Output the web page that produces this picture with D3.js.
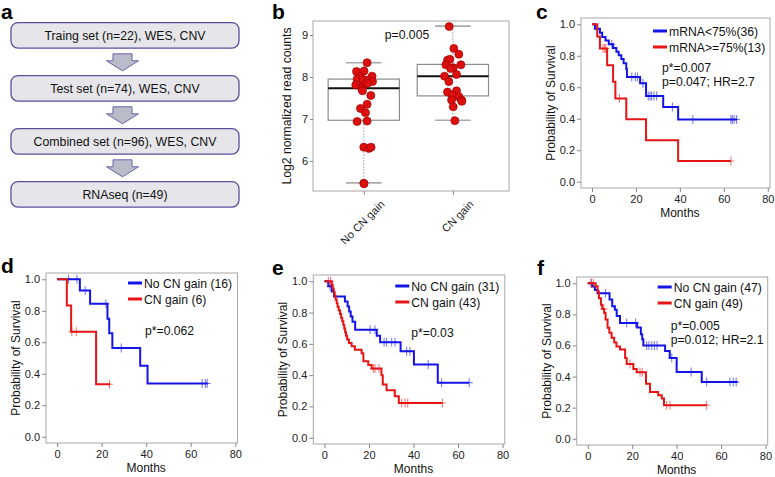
<!DOCTYPE html>
<html>
<head>
<meta charset="utf-8">
<script src="https://cdn.jsdelivr.net/npm/d3@7"></script>
<style>
body { margin: 0; background: #fff; }
text { font-family: "Liberation Sans", Arial, sans-serif; }
</style>
</head>
<body>
<script>
// ---- panel a: study flow ----
var flowSteps = ["Traing set (n=22), WES, CNV", "Test set (n=74), WES, CNV",
                 "Combined set (n=96), WES, CNV", "RNAseq (n=49)"];

// ---- panel b: expression by CN status ----
var bGroups = ["No CN gain", "CN gain"];
var bLowWhisker = [5.48, 6.97];
var bQ1 = [6.97, 7.55];
var bMedian = [7.73, 8.02];
var bQ3 = [7.95, 8.30];
var bHighWhisker = [8.34, 9.21];
var bYTicks = [6, 7, 8, 9];
var bPValue = "p=0.005";
// jittered x (group index) and value for each sample
var bNoGainX = [1.037, 0.918, 1.003, 0.955, 1.093, 0.925, 0.992, 1.048, 1.098, 0.910, 0.992, 1.042, 0.978,
                0.985, 1.079, 1.037, 0.963, 1.019, 0.925, 1.037, 1.000, 1.056, 1.082, 1.000, 1.003];
var bNoGainY = [8.34, 8.13, 8.14, 8.01, 8.02, 7.95, 7.94, 7.93, 7.89, 7.81, 7.79, 7.85, 7.72,
                7.67, 7.56, 7.35, 7.25, 7.15, 6.94, 6.95, 6.33, 6.30, 6.33, 5.47, 5.46];
var bGainX = [1.959, 2.011, 2.067, 1.940, 1.966, 1.921, 2.090, 2.004, 1.975, 1.906, 2.041,
              1.955, 1.940, 2.041, 1.993, 2.067, 2.097, 2.100, 1.985, 2.004, 2.022];
var bGainY = [9.20, 8.68, 8.54, 8.40, 8.42, 8.29, 8.29, 8.22, 8.20, 8.02, 8.06,
              7.89, 7.64, 7.67, 7.57, 7.53, 7.45, 7.42, 7.45, 7.29, 6.96];

// ---- survival panels (months, survival after each drop, censor times, last follow-up) ----
var kmXTicks = [0, 20, 40, 60, 80];
var kmYTicks = [0, 0.2, 0.4, 0.6, 0.8, 1.0];

var cLabels = ["mRNA<75%(36)", "mRNA>=75%(13)"];
var cStats = ["p*=0.007", "p=0.047; HR=2.7"];
var cBlueT = [1.35, 3.6, 4.65, 6.15, 7.65, 9.6, 11.1, 12.15, 13.35, 14.4, 15.6, 15.9, 21.9, 24.6, 32.4, 39.2];
var cBlueS = [0.972, 0.946, 0.92, 0.897, 0.874, 0.85, 0.826, 0.803, 0.78, 0.752, 0.716, 0.665, 0.625, 0.545, 0.474, 0.395];
var cBlueCens = [2.4, 9.0, 18.1, 19.7, 20.7, 23.2, 25.6, 26.4, 27.1, 28.2, 29.4, 36.6, 45.9, 63.2, 63.9, 64.7, 65.8];
var cBlueEnd = 66;
var cRedT = [2.4, 3.6, 6.9, 9.6, 10.65, 15.6, 24.6, 39.2];
var cRedS = [0.923, 0.846, 0.740, 0.635, 0.529, 0.397, 0.264, 0.132];
var cRedCens = [5.0, 5.8, 6.3, 12.5, 63.2];
var cRedEnd = 63.2;

var dLabels = ["No CN gain (16)", "CN gain (6)"];
var dStats = ["p*=0.062"];
var dBlueT = [10.2, 14.8, 22.6, 23.4, 24.8, 37.3, 40.6];
var dBlueS = [0.929, 0.844, 0.750, 0.657, 0.563, 0.450, 0.338];
var dBlueCens = [5.1, 8.9, 12.6, 21.9, 28.8, 65.1, 66.6, 67.4];
var dBlueEnd = 67.6;
var dRedT = [4.35, 6.3, 17.5];
var dRedS = [0.833, 0.667, 0.333];
var dRedCens = [6.6, 8.6, 23.5];
var dRedEnd = 23.8;

var eLabels = ["No CN gain (31)", "CN gain (43)"];
var eStats = ["p*=0.03"];
var eBlueT = [1.75, 3.3, 4.3, 9.2, 10.4, 11.1, 11.8, 12.6, 13.8, 23.5, 25.0, 34.2, 40.2, 50.9];
var eBlueS = [0.968, 0.935, 0.903, 0.871, 0.839, 0.806, 0.774, 0.742, 0.690, 0.652, 0.610, 0.553, 0.468, 0.352];
var eBlueCens = [2.5, 20.5, 22.7, 26.8, 27.9, 30.2, 31.7, 36.9, 38.4, 46.6, 52.6, 65.0];
var eBlueEnd = 65.0;
var eRedT = [3.3, 3.7, 4.2, 4.6, 5.0, 5.5, 5.9, 6.4, 7.0, 7.5, 8.0, 8.5, 8.9, 9.3, 9.7, 10.2, 11.0, 12.2, 13.7,
             16.7, 17.5, 19.7, 21.2, 25.6, 26.2, 27.9, 31.6, 33.4];
var eRedS = [0.977, 0.953, 0.930, 0.907, 0.884, 0.860, 0.837, 0.814, 0.791, 0.767, 0.744, 0.721, 0.698, 0.674,
             0.651, 0.628, 0.605, 0.584, 0.563, 0.540, 0.489, 0.465, 0.442, 0.400, 0.341, 0.303, 0.265, 0.222];
var eRedCens = [1.75, 2.8, 22.0, 22.7, 24.5, 34.7, 36.2, 37.4, 53.0];
var eRedEnd = 53.0;

var fLabels = ["No CN gain (47)", "CN gain (49)"];
var fStats = ["p*=0.005", "p=0.012; HR=2.1"];
var fBlueT = [2.0, 3.2, 4.4, 9.8, 11.0, 12.2, 13.0, 14.5, 22.2, 23.9, 24.5, 25.0, 34.8, 36.9, 40.0, 51.3];
var fBlueS = [0.979, 0.957, 0.936, 0.895, 0.852, 0.830, 0.790, 0.745, 0.715, 0.672, 0.640, 0.600, 0.565, 0.520, 0.430, 0.365];
var fBlueCens = [1.5, 8.0, 17.5, 21.5, 26.5, 27.5, 28.8, 30.0, 31.2, 37.8, 46.5, 53.5, 64.0, 65.5, 66.8];
var fBlueEnd = 67.5;
var fRedT = [3.5, 4.4, 5.0, 5.9, 6.5, 7.4, 8.0, 8.9, 9.7, 10.7, 11.9, 12.9, 14.5, 16.8, 17.5,
             20.5, 22.0, 26.2, 28.0, 31.7, 33.3, 34.3];
var fRedS = [0.980, 0.947, 0.904, 0.862, 0.834, 0.809, 0.767, 0.714, 0.682, 0.650, 0.619, 0.593, 0.574, 0.520, 0.480,
             0.449, 0.428, 0.354, 0.301, 0.280, 0.259, 0.216];
var fRedCens = [1.5, 2.5, 7.2, 19.0, 23.5, 24.5, 35.5, 37.0, 53.5];
var fRedEnd = 53.5;

var BLUE = "#1414e6", RED = "#e61414";

var svg = d3.select("body").append("svg")
    .attr("width", 775)
    .attr("height", 477);

function panelLetter(s, x, y) {
    svg.append("text").attr("x", x).attr("y", y)
        .attr("font-size", 21).attr("font-weight", "bold").text(s);
}

// ---------- a ----------
panelLetter("a", 1, 19);
var flowY = d3.scalePoint().domain(flowSteps).range([35.3, 194.3]);
var boxH = 25.5;
svg.selectAll("rect.flow")
    .data(flowSteps).enter()
    .append("rect")
    .attr("class", "flow")
    .attr("x", 11).attr("width", 228)
    .attr("y", function (d) { return flowY(d) - boxH / 2; })
    .attr("height", boxH)
    .attr("rx", 7)
    .attr("fill", "#e6e6ea")
    .attr("stroke", "#5c4e9c")
    .attr("stroke-width", 1.3);
svg.selectAll("text.flow")
    .data(flowSteps).enter()
    .append("text")
    .attr("class", "flow")
    .attr("x", 125)
    .attr("y", function (d) { return flowY(d) + 4.5; })
    .attr("text-anchor", "middle")
    .attr("font-size", 12.3)
    .attr("fill", "#111")
    .text(function (d) { return d; });
// arrows between consecutive steps
svg.selectAll("path.arrow")
    .data(flowSteps.slice(1)).enter()
    .append("path")
    .attr("d", function (d, i) {
        var m = (flowY(flowSteps[i]) + flowY(d)) / 2, cx = 122.5;
        return "M" + (cx - 9.5) + "," + (m - 8) + "H" + (cx + 9.5) + "V" + (m - 1) +
            "H" + (cx + 16) + "L" + cx + "," + (m + 9) + "L" + (cx - 16) + "," + (m - 1) +
            "H" + (cx - 9.5) + "Z";
    })
    .attr("fill", "#b9bdca")
    .attr("stroke", "#6c62a8")
    .attr("stroke-width", 1);

// ---------- b ----------
panelLetter("b", 272, 19);
var bLeft = 313, bTop = 21, bW = 196, bH = 170;
var bx = d3.scaleLinear().domain([0.43, 2.63]).range([bLeft, bLeft + bW]);
var by = d3.scaleLinear().domain([5.286, 9.333]).range([bTop + bH, bTop]);
svg.append("rect").attr("x", bLeft).attr("y", bTop).attr("width", bW).attr("height", bH)
    .attr("fill", "none").attr("stroke", "#a8a8a8");

var bIdx = [0, 1];
// whiskers
svg.selectAll("line.wlo").data(bIdx).enter().append("line")
    .attr("x1", function (i) { return bx(i + 1); }).attr("x2", function (i) { return bx(i + 1); })
    .attr("y1", function (i) { return by(bLowWhisker[i]); }).attr("y2", function (i) { return by(bQ1[i]); })
    .attr("stroke", "#999").attr("stroke-dasharray", "1.5,1.5");
svg.selectAll("line.whi").data(bIdx).enter().append("line")
    .attr("x1", function (i) { return bx(i + 1); }).attr("x2", function (i) { return bx(i + 1); })
    .attr("y1", function (i) { return by(bHighWhisker[i]); }).attr("y2", function (i) { return by(bQ3[i]); })
    .attr("stroke", "#999").attr("stroke-dasharray", "1.5,1.5");
[bLowWhisker, bHighWhisker].forEach(function (arr) {
    svg.selectAll(null).data(bIdx).enter().append("line")
        .attr("x1", function (i) { return bx(i + 0.8); }).attr("x2", function (i) { return bx(i + 1.2); })
        .attr("y1", function (i) { return by(arr[i]); }).attr("y2", function (i) { return by(arr[i]); })
        .attr("stroke", "#aaa").attr("stroke-width", 1.6);
});
svg.selectAll("rect.bbox").data(bIdx).enter().append("rect")
    .attr("x", function (i) { return bx(i + 0.6); })
    .attr("width", function (i) { return bx(i + 1.4) - bx(i + 0.6); })
    .attr("y", function (i) { return by(bQ3[i]); })
    .attr("height", function (i) { return by(bQ1[i]) - by(bQ3[i]); })
    .attr("fill", "none").attr("stroke", "#8c8c8c").attr("stroke-width", 1.2);
svg.selectAll("line.med").data(bIdx).enter().append("line")
    .attr("x1", function (i) { return bx(i + 0.6); }).attr("x2", function (i) { return bx(i + 1.4); })
    .attr("y1", function (i) { return by(bMedian[i]); }).attr("y2", function (i) { return by(bMedian[i]); })
    .attr("stroke", "#111").attr("stroke-width", 2);

var bPoints = d3.zip(bNoGainX, bNoGainY).concat(d3.zip(bGainX, bGainY));
svg.selectAll("circle.pt").data(bPoints).enter().append("circle")
    .attr("cx", function (d) { return bx(d[0]); })
    .attr("cy", function (d) { return by(d[1]); })
    .attr("r", 4)
    .attr("fill", "#dd1010")
    .attr("stroke", "#a00000")
    .attr("stroke-width", 0.7);

var bYAxis = svg.append("g").attr("transform", "translate(" + bLeft + ",0)")
    .call(d3.axisLeft(by).tickValues(bYTicks).tickSize(3).tickPadding(2).tickFormat(d3.format("d")));
bYAxis.select(".domain").remove();
bYAxis.selectAll("line").attr("stroke", "#888");
bYAxis.selectAll("text").attr("font-size", 11).attr("fill", "#222")
    .attr("font-family", "Liberation Sans, Arial, sans-serif");
var bXAxis = svg.append("g").attr("transform", "translate(0," + (bTop + bH) + ")")
    .call(d3.axisBottom(bx).tickValues([1, 2]).tickSize(4)
        .tickFormat(function (d) { return bGroups[d - 1]; }));
bXAxis.select(".domain").remove();
bXAxis.selectAll("line").attr("stroke", "#888");
bXAxis.selectAll("text")
    .attr("font-size", 11).attr("fill", "#222")
    .attr("font-family", "Liberation Sans, Arial, sans-serif")
    .attr("text-anchor", "end")
    .attr("dy", 0)
    .attr("transform", "translate(21,14) rotate(-45)")
    .attr("y", 0);
svg.append("text")
    .attr("transform", "translate(291," + (bTop + bH / 2) + ") rotate(-90)")
    .attr("text-anchor", "middle").attr("font-size", 12.2).attr("fill", "#111")
    .text("Log2 normalized read counts");
svg.append("text").attr("x", 407).attr("y", 39).attr("text-anchor", "middle")
    .attr("font-size", 12.2).attr("fill", "#111").text(bPValue);

// ---------- survival panels ----------
function survAt(T, S, t) {
    var i = d3.bisectRight(T, t);
    return i === 0 ? 1 : S[i - 1];
}

function drawKM(p) {
    panelLetter(p.letter, p.lx, p.ly);
    var g = svg.append("g").attr("transform", "translate(" + p.left + "," + p.top + ")");
    var x = d3.scaleLinear().domain([-5, 81]).range([0, p.w]);
    var y = d3.scaleLinear().domain([-0.04, 1.04]).range([p.h, 0]);
    g.append("rect").attr("width", p.w).attr("height", p.h)
        .attr("fill", "none").attr("stroke", "#a8a8a8");

    var xa = g.append("g").attr("transform", "translate(0," + p.h + ")")
        .call(d3.axisBottom(x).tickValues(kmXTicks).tickSize(4).tickPadding(3));
    var ya = g.append("g")
        .call(d3.axisLeft(y).tickValues(kmYTicks).tickSize(4).tickPadding(2).tickFormat(d3.format(".1f")));
    [xa, ya].forEach(function (a) {
        a.select(".domain").remove();
        a.selectAll("line").attr("stroke", "#888");
        a.selectAll("text").attr("font-size", 11).attr("fill", "#222")
            .attr("font-family", "Liberation Sans, Arial, sans-serif");
    });
    g.append("text").attr("x", x(40)).attr("y", p.h + 28.5).attr("text-anchor", "middle")
        .attr("font-size", 12).attr("fill", "#111").text("Months");
    g.append("text").attr("transform", "translate(-26," + (p.h / 2) + ") rotate(-90)")
        .attr("text-anchor", "middle").attr("font-size", 12).attr("fill", "#111")
        .text("Probability of Survival");

    var line = d3.line().curve(d3.curveStepAfter)
        .x(function (d) { return x(d[0]); })
        .y(function (d) { return y(d[1]); });

    p.series.forEach(function (s) {
        var pts = [[0, 1]].concat(d3.zip(s.t, s.s)).concat([[s.end, s.s[s.s.length - 1]]]);
        g.append("path").datum(pts).attr("d", line)
            .attr("fill", "none").attr("stroke", s.color).attr("stroke-width", 2);
        g.selectAll(null).data(s.cens).enter().append("path")
            .attr("d", function (c) {
                var cx = x(c), cy = y(survAt(s.t, s.s, c));
                return "M" + (cx - 3.5) + "," + cy + "h7M" + cx + "," + (cy - 4.5) + "v9";
            })
            .attr("stroke", s.color).attr("stroke-opacity", 0.55).attr("stroke-width", 1.1);
    });

    // legend
    p.series.forEach(function (s, i) {
        var ly = p.legY + i * 16;
        g.append("line").attr("x1", p.legX).attr("x2", p.legX + 14)
            .attr("y1", ly).attr("y2", ly)
            .attr("stroke", s.color).attr("stroke-width", 3);
        g.append("text").attr("x", p.legX + 16).attr("y", ly + 4.5)
            .attr("font-size", 12.2).attr("fill", "#111").text(s.label);
    });
    p.stats.forEach(function (t, i) {
        g.append("text").attr("x", p.statX).attr("y", p.statY + i * 13.7)
            .attr("font-size", 12.2).attr("fill", "#111").text(t);
    });
}

drawKM({
    letter: "c", lx: 536, ly: 19, left: 581, top: 18, w: 189, h: 170,
    legX: 72, legY: 13, statX: 81, statY: 54, stats: cStats,
    series: [
        { t: cBlueT, s: cBlueS, cens: cBlueCens, end: cBlueEnd, color: BLUE, label: cLabels[0] },
        { t: cRedT, s: cRedS, cens: cRedCens, end: cRedEnd, color: RED, label: cLabels[1] }
    ]
});
drawKM({
    letter: "d", lx: 1, ly: 273, left: 46, top: 273, w: 191.5, h: 170,
    legX: 82, legY: 10, statX: 99, statY: 62, stats: dStats,
    series: [
        { t: dBlueT, s: dBlueS, cens: dBlueCens, end: dBlueEnd, color: BLUE, label: dLabels[0] },
        { t: dRedT, s: dRedS, cens: dRedCens, end: dRedEnd, color: RED, label: dLabels[1] }
    ]
});
drawKM({
    letter: "e", lx: 272, ly: 275, left: 313.3, top: 275, w: 191.5, h: 169,
    legX: 82, legY: 11, statX: 98, statY: 62, stats: eStats,
    series: [
        { t: eBlueT, s: eBlueS, cens: eBlueCens, end: eBlueEnd, color: BLUE, label: eLabels[0] },
        { t: eRedT, s: eRedS, cens: eRedCens, end: eRedEnd, color: RED, label: eLabels[1] }
    ]
});
drawKM({
    letter: "f", lx: 537, ly: 275, left: 576.7, top: 277, w: 191, h: 168,
    legX: 81, legY: 10, statX: 94, statY: 53, stats: fStats,
    series: [
        { t: fBlueT, s: fBlueS, cens: fBlueCens, end: fBlueEnd, color: BLUE, label: fLabels[0] },
        { t: fRedT, s: fRedS, cens: fRedCens, end: fRedEnd, color: RED, label: fLabels[1] }
    ]
});
</script>
</body>
</html>
